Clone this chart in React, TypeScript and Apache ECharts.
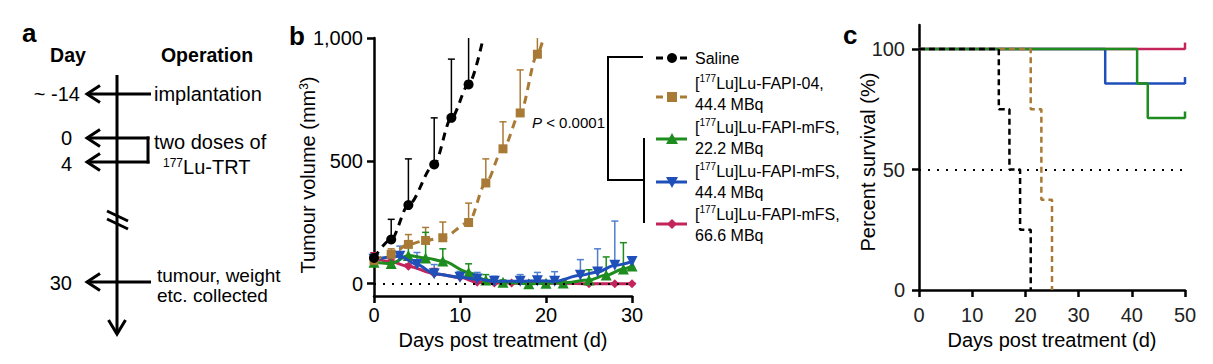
import React, { useEffect, useRef } from 'react';
import * as echarts from 'echarts';

const FONT = '"Liberation Sans", Arial, Helvetica, sans-serif';

// ---------- Panel b: tumour volume (mm3) ----------
const salineDays = [0, 2, 4, 7, 9, 11];
const salineMean = [105, 180, 320, 485, 675, 811];
const salineUpper = [125, 262, 508, 675, 914, 1100];
const salineLineEnd = [12.7, 1000];

const fapi04Days = [0, 2, 4, 6, 8, 11, 13, 15, 17, 19];
const fapi04Mean = [95, 120, 160, 176, 187, 249, 410, 549, 695, 934];
const fapi04Upper = [110, 142, 200, 229, 251, 328, 508, 659, 870, 1100];
const fapi04LineEnd = [19.7, 1000];

const mfs22Days = [0, 2, 4, 6, 8, 11, 13, 15, 18, 20, 22, 25, 27, 29, 30];
const mfs22Mean = [87, 82, 115, 105, 92, 46, 15, 6, 0, 2, 3, 15, 35, 60, 72];
const mfs22Upper = [95, 90, 150, 209, 142, 81, 37, 15, 8, 10, 12, 57, 109, 167, 72];

const mfs44Days = [0, 3, 5, 7, 10, 12, 14, 17, 19, 21, 24, 26, 28, 30];
const mfs44Mean = [100, 112, 78, 41, 26, 19, 10, 10, 12, 10, 34, 48, 75, 90];
const mfs44Upper = [115, 153, 127, 78, 50, 46, 30, 37, 46, 49, 98, 142, 255, 90];

const mfs66Days = [0, 2, 4, 7, 10, 12, 14, 16, 18, 20, 22, 25, 28, 30];
const mfs66Mean = [105, 89, 71, 41, 26, 6, 3, 3, 1, 2, 2, 0, 0, 0];
const mfs66Upper = [126, 100, 80, 62, 35, 10, 6, 6, 3, 4, 4, 2, 2, 2];

const volTicks = [0, 500, 1000];

// ---------- Panel c: survival (%) ----------
const salineSurvDays = [0, 15, 17, 19, 21];
const salineSurvPct = [100, 75, 50, 25, 0];
const fapi04SurvDays = [0, 21, 23, 25];
const fapi04SurvPct = [100, 75, 37.5, 0];
const mfs22SurvDays = [0, 41, 43, 50];
const mfs22SurvPct = [100, 85.7, 71.4, 71.4];
const mfs44SurvDays = [0, 35, 50];
const mfs44SurvPct = [100, 85.7, 85.7];
const mfs66SurvDays = [0, 50];
const mfs66SurvPct = [100, 100];
const survTicks = [0, 50, 100];

const legendLabels = [
  'Saline',
  '[{sup|177}Lu]Lu-FAPI-04,\n44.4 MBq',
  '[{sup|177}Lu]Lu-FAPI-mFS,\n22.2 MBq',
  '[{sup|177}Lu]Lu-FAPI-mFS,\n44.4 MBq',
  '[{sup|177}Lu]Lu-FAPI-mFS,\n66.6 MBq',
];

const C_BLACK = '#000000';
const C_BROWN = '#a97a35';
const C_GREEN = '#1e8c1e';
const C_BLUE = '#1f4fb8';
const C_BLUE_ERR = '#4f7fcf';
const C_RED = '#c4245c';

const VOL_MAX = 1000;

function errorSeries(days: number[], mean: number[], upper: number[], color: string) {
  return {
    type: 'custom',
    xAxisIndex: 0,
    yAxisIndex: 0,
    silent: true,
    z: 1,
    data: days.map((d, i) => [d, mean[i], upper[i]]),
    renderItem: (params: any, api: any) => {
      const x = api.value(0);
      const m = api.value(1);
      const u = api.value(2);
      if (u <= m) return { type: 'group', children: [] };
      const over = u > VOL_MAX;
      const p0 = api.coord([x, m]);
      const p1 = api.coord([x, over ? VOL_MAX : u]);
      const children: any[] = [
        { type: 'line', shape: { x1: p0[0], y1: p0[1], x2: p1[0], y2: p1[1] }, style: { stroke: color, lineWidth: 1.5 } },
      ];
      if (!over) {
        children.push({ type: 'line', shape: { x1: p1[0] - 3.5, y1: p1[1], x2: p1[0] + 3.5, y2: p1[1] }, style: { stroke: color, lineWidth: 1.5 } });
      }
      return { type: 'group', children };
    },
  };
}

function volLine(days: number[], mean: number[], color: string, symbol: string, size: number, opts: any) {
  const data: any[] = days.map((d, i) => [d, mean[i]]);
  if (opts.end) data.push({ value: opts.end, symbol: 'none' });
  return {
    type: 'line',
    xAxisIndex: 0,
    yAxisIndex: 0,
    data,
    symbol,
    symbolSize: size,
    symbolRotate: opts.rotate || 0,
    smooth: opts.smooth ?? 0.3,
    smoothMonotone: 'x',
    clip: true,
    z: opts.z,
    itemStyle: { color, opacity: 1 },
    lineStyle: { color, width: 3, type: opts.dashed ? [8, 6] : 'solid' },
    markLine: opts.markLine,
    silent: true,
  };
}

function survLine(days: number[], pct: number[], color: string, dashed: boolean, z: number, censor: boolean) {
  const data: any[] = days.map((d, i) => ({
    value: [d, pct[i]],
    symbol: censor && i === days.length - 1 ? 'rect' : 'none',
  }));
  return {
    type: 'line',
    xAxisIndex: 1,
    yAxisIndex: 1,
    step: 'end',
    data,
    symbol: 'rect',
    symbolSize: [2.5, 7],
    symbolOffset: [0, -3],
    showSymbol: true,
    z,
    itemStyle: { color },
    lineStyle: { color, width: 2.5, type: dashed ? [6, 4] : 'solid' },
    silent: true,
  };
}

function axisCommon(labelColor: string) {
  return {
    axisLine: { show: true, onZero: false, lineStyle: { color: '#000', width: 2.5 } },
    axisTick: { show: true, length: 7, lineStyle: { color: '#000', width: 2.5 } },
    splitLine: { show: false },
    axisLabel: { fontSize: 20, color: labelColor, fontFamily: FONT },
  };
}

function leftArrow(tipX: number, y: number, endX: number) {
  return [
    { type: 'line', shape: { x1: tipX + 2, y1: y, x2: endX, y2: y }, style: { stroke: '#000', lineWidth: 3 } },
    { type: 'polyline', shape: { points: [[tipX + 14, y - 8.5], [tipX + 1, y], [tipX + 14, y + 8.5]] }, style: { stroke: '#000', lineWidth: 3, fill: null, lineJoin: 'miter' } },
  ];
}

function txt(x: number, y: number, text: string, extra: any = {}) {
  return {
    type: 'text',
    x,
    y,
    silent: true,
    style: {
      text,
      fontSize: 20,
      fontFamily: FONT,
      fill: '#000',
      align: 'left',
      verticalAlign: 'middle',
      rich: { sup: { fontSize: 12, verticalAlign: 'top', fontFamily: FONT, fill: '#000' } },
      ...extra,
    },
  };
}

function legendItem(y: number, textY: number, label: string, color: string, dashed: boolean, marker: string) {
  const cx = 672;
  const items: any[] = [
    { type: 'line', shape: { x1: 656, y1: y, x2: 687, y2: y }, style: { stroke: color, lineWidth: 3, lineDash: dashed ? [7, 5] : null } },
  ];
  if (marker === 'circle') items.push({ type: 'circle', shape: { cx, cy: y, r: 5 }, style: { fill: color } });
  if (marker === 'square') items.push({ type: 'rect', shape: { x: cx - 5, y: y - 5, width: 10, height: 10 }, style: { fill: color } });
  if (marker === 'up') items.push({ type: 'polygon', shape: { points: [[cx, y - 6], [cx + 6, y + 5], [cx - 6, y + 5]] }, style: { fill: color } });
  if (marker === 'down') items.push({ type: 'polygon', shape: { points: [[cx - 6, y - 5], [cx + 6, y - 5], [cx, y + 6]] }, style: { fill: color } });
  if (marker === 'diamond') items.push({ type: 'polygon', shape: { points: [[cx, y - 5], [cx + 5, y], [cx, y + 5], [cx - 5, y]] }, style: { fill: color } });
  items.push(txt(695, textY, label, { fontSize: 16, lineHeight: 21, rich: { sup: { fontSize: 10, verticalAlign: 'top', fontFamily: FONT, fill: '#000' } } }));
  return items;
}

function buildOption() {
  const graphics: any[] = [];
  // panel letters
  graphics.push(txt(22, 33, 'a', { fontSize: 26, fontWeight: 'bold' }));
  graphics.push(txt(289, 36, 'b', { fontSize: 26, fontWeight: 'bold' }));
  graphics.push(txt(843, 35, 'c', { fontSize: 26, fontWeight: 'bold' }));

  // panel a timeline
  graphics.push(txt(68, 55, 'Day', { fontSize: 19.5, fontWeight: 'bold', align: 'center' }));
  graphics.push(txt(207, 55, 'Operation', { fontSize: 19.5, fontWeight: 'bold', align: 'center' }));
  graphics.push({ type: 'line', shape: { x1: 117, y1: 75, x2: 117, y2: 333 }, style: { stroke: '#000', lineWidth: 3 } });
  graphics.push({ type: 'polyline', shape: { points: [[108.5, 320], [117, 334], [125.5, 320]] }, style: { stroke: '#000', lineWidth: 3, fill: null, lineJoin: 'miter' } });
  graphics.push(...leftArrow(86, 94, 151));
  graphics.push(...leftArrow(86, 138, 149.5));
  graphics.push(...leftArrow(86, 162, 149.5));
  graphics.push({ type: 'line', shape: { x1: 148, y1: 136.5, x2: 148, y2: 163.5 }, style: { stroke: '#000', lineWidth: 3 } });
  graphics.push(...leftArrow(86, 282, 151));
  graphics.push({ type: 'line', shape: { x1: 107, y1: 211, x2: 128, y2: 221 }, style: { stroke: '#000', lineWidth: 3 } });
  graphics.push({ type: 'line', shape: { x1: 107, y1: 219, x2: 128, y2: 229 }, style: { stroke: '#000', lineWidth: 3 } });
  graphics.push(txt(80, 94, '~ -14', { align: 'right' }));
  graphics.push(txt(72, 138, '0', { align: 'right' }));
  graphics.push(txt(72, 164, '4', { align: 'right' }));
  graphics.push(txt(72, 283, '30', { align: 'right' }));
  graphics.push(txt(154, 94, 'implantation'));
  graphics.push(txt(154, 142, 'two doses of'));
  graphics.push(txt(163, 167, '{sup|177}Lu-TRT'));
  graphics.push(txt(157, 275, 'tumour, weight', { fontSize: 19 }));
  graphics.push(txt(157, 295, 'etc. collected', { fontSize: 19 }));

  // axis titles (y)
  graphics.push({
    type: 'text', x: 308, y: 175, rotation: Math.PI / 2, silent: true,
    style: { text: 'Tumour volume (mm{sup|3})', fontSize: 20, fontFamily: FONT, fill: '#000', align: 'center', verticalAlign: 'middle', rich: { sup: { fontSize: 12, verticalAlign: 'top', fontFamily: FONT, fill: '#000' } } },
  });
  graphics.push({
    type: 'text', x: 868, y: 162, rotation: Math.PI / 2, silent: true,
    style: { text: 'Percent survival (%)', fontSize: 20, fontFamily: FONT, fill: '#000', align: 'center', verticalAlign: 'middle' },
  });

  // P value
  graphics.push(txt(532, 122, '{i|P} < 0.0001', { fontSize: 15, rich: { i: { fontStyle: 'italic', fontSize: 15, fontFamily: FONT, fill: '#000' } } }));

  // bracket
  graphics.push({ type: 'polyline', shape: { points: [[643, 57], [608, 57], [608, 180], [644, 180]] }, style: { stroke: '#000', lineWidth: 2, fill: null } });
  graphics.push({ type: 'line', shape: { x1: 644, y1: 138, x2: 644, y2: 223 }, style: { stroke: '#000', lineWidth: 2 } });

  // legend
  graphics.push(...legendItem(58, 58, legendLabels[0], C_BLACK, true, 'circle'));
  graphics.push(...legendItem(97, 94, legendLabels[1], C_BROWN, true, 'square'));
  graphics.push(...legendItem(139, 138, legendLabels[2], C_GREEN, false, 'up'));
  graphics.push(...legendItem(182, 182, legendLabels[3], C_BLUE, false, 'down'));
  graphics.push(...legendItem(224, 225, legendLabels[4], C_RED, false, 'diamond'));

  const dotted = (yVal: number) => ({
    silent: true,
    symbol: 'none',
    label: { show: false },
    lineStyle: { color: '#000', width: 2, type: [2, 7] },
    data: [{ yAxis: yVal }],
    animation: false,
  });

  return {
    animation: false,
    textStyle: { fontFamily: FONT },
    grid: [
      { left: 374, top: 38, width: 258, height: 258 },
      { left: 919, top: 25, width: 266, height: 265 },
    ],
    xAxis: [
      {
        gridIndex: 0, type: 'value', min: 0, max: 30, interval: 10,
        ...axisCommon('#000'),
        axisLabel: { fontSize: 20, color: '#000', fontFamily: FONT, margin: 9 },
        name: 'Days post treatment (d)', nameLocation: 'middle', nameGap: 29,
        nameTextStyle: { fontSize: 20, color: '#000', fontFamily: FONT },
      },
      {
        gridIndex: 1, type: 'value', min: 0, max: 50, interval: 10,
        ...axisCommon('#222'),
        axisLabel: { fontSize: 20, color: '#222', fontFamily: FONT, margin: 15 },
        name: 'Days post treatment (d)', nameLocation: 'middle', nameGap: 38,
        nameTextStyle: { fontSize: 20, color: '#000', fontFamily: FONT },
      },
    ],
    yAxis: [
      {
        gridIndex: 0, type: 'value', min: -50, max: 1000,
        ...axisCommon('#000'),
        axisTick: { show: true, length: 7, customValues: volTicks, lineStyle: { color: '#000', width: 2.5 } },
        axisLabel: { fontSize: 20, color: '#000', fontFamily: FONT, margin: 11, customValues: volTicks, formatter: (v: number) => v.toLocaleString('en-US') },
      },
      {
        gridIndex: 1, type: 'value', min: 0, max: 110,
        ...axisCommon('#222'),
        axisTick: { show: true, length: 7, customValues: survTicks, lineStyle: { color: '#000', width: 2.5 } },
        axisLabel: { fontSize: 20, color: '#222', fontFamily: FONT, margin: 14, customValues: survTicks },
      },
    ],
    graphic: { elements: graphics },
    series: [
      errorSeries(salineDays, salineMean, salineUpper, C_BLACK),
      errorSeries(fapi04Days, fapi04Mean, fapi04Upper, C_BROWN),
      errorSeries(mfs22Days, mfs22Mean, mfs22Upper, C_GREEN),
      errorSeries(mfs44Days, mfs44Mean, mfs44Upper, C_BLUE_ERR),
      errorSeries(mfs66Days, mfs66Mean, mfs66Upper, C_RED),
      volLine(mfs66Days, mfs66Mean, C_RED, 'diamond', 9, { z: 2, markLine: dotted(0) }),
      volLine(mfs22Days, mfs22Mean, C_GREEN, 'triangle', 11, { z: 3 }),
      volLine(mfs44Days, mfs44Mean, C_BLUE, 'triangle', 11, { z: 4, rotate: 180 }),
      volLine(fapi04Days, fapi04Mean, C_BROWN, 'rect', 9, { z: 5, dashed: true, end: fapi04LineEnd }),
      volLine(salineDays, salineMean, C_BLACK, 'circle', 10, { z: 6, dashed: true, end: salineLineEnd }),
      { ...survLine(mfs66SurvDays, mfs66SurvPct, C_RED, false, 2, true), markLine: dotted(50) },
      survLine(mfs44SurvDays, mfs44SurvPct, C_BLUE, false, 3, true),
      survLine(mfs22SurvDays, mfs22SurvPct, C_GREEN, false, 4, true),
      survLine(fapi04SurvDays, fapi04SurvPct, C_BROWN, true, 5, false),
      survLine(salineSurvDays, salineSurvPct, C_BLACK, true, 6, false),
    ],
  };
}

export default function App() {
  const ref = useRef<HTMLDivElement>(null);
  useEffect(() => {
    if (!ref.current) return;
    const chart = echarts.init(ref.current, undefined, { renderer: 'svg' });
    chart.setOption(buildOption() as any);
    return () => chart.dispose();
  }, []);
  return (
    <div
      ref={ref}
      style={{ position: 'absolute', left: 0, top: 0, width: 1213, height: 364, background: '#fff' }}
    />
  );
}
